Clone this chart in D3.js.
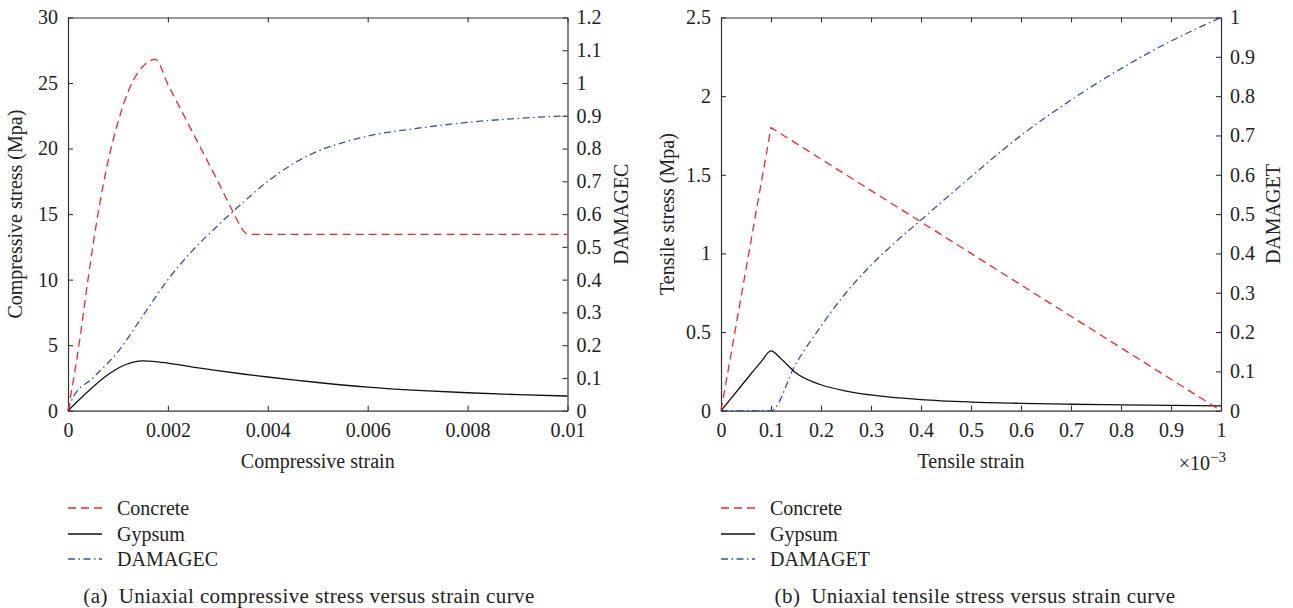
<!DOCTYPE html>
<html>
<head>
<meta charset="utf-8">
<script src="https://cdn.jsdelivr.net/npm/d3@7"></script>
<style>
  body { margin: 0; background: #fff; }
  text { font-family: "Liberation Serif", "DejaVu Serif", serif; fill: #222; }
</style>
</head>
<body>
<div id="chart"></div>
<script>
// ---- data (a) compressive ----
var compConcreteStrain = [0, 0.0002, 0.0004, 0.0006, 0.0008, 0.001, 0.0012, 0.0014, 0.0016, 0.00175, 0.002, 0.0025, 0.003, 0.0033, 0.0035, 0.0036, 0.01];
var compConcreteStress = [0, 4.5, 10, 15, 19, 22, 24.3, 25.8, 26.6, 26.8, 24.9, 21.2, 17.5, 15.2, 13.8, 13.45, 13.45];
var compGypsumStrain = [0, 0.0015, 0.0017, 0.002, 0.0025, 0.003, 0.0035, 0.004, 0.0045, 0.005, 0.006, 0.007, 0.008, 0.009, 0.01];
var compGypsumStress = [0, 3.8, 3.77, 3.63, 3.33, 3.05, 2.8, 2.57, 2.35, 2.15, 1.8, 1.55, 1.37, 1.23, 1.12];
var compDamageStrain = [0, 0.0001, 0.0005, 0.001, 0.0015, 0.002, 0.0025, 0.003, 0.0035, 0.004, 0.0045, 0.005, 0.0055, 0.006, 0.007, 0.008, 0.009, 0.01];
var compDamage = [0, 0.04, 0.10, 0.18, 0.29, 0.40, 0.49, 0.565, 0.635, 0.70, 0.753, 0.792, 0.818, 0.838, 0.862, 0.88, 0.892, 0.90];

var compXTicks = [0, 0.002, 0.004, 0.006, 0.008, 0.01];
var compXLabels = ["0", "0.002", "0.004", "0.006", "0.008", "0.01"];
var compYTicks = [0, 5, 10, 15, 20, 25, 30];
var compYLabels = ["0", "5", "10", "15", "20", "25", "30"];
var compY2Ticks = [0, 0.1, 0.2, 0.3, 0.4, 0.5, 0.6, 0.7, 0.8, 0.9, 1, 1.1, 1.2];
var compY2Labels = ["0", "0.1", "0.2", "0.3", "0.4", "0.5", "0.6", "0.7", "0.8", "0.9", "1", "1.1", "1.2"];

// ---- data (b) tensile (strain in 1e-3) ----
var tensConcreteStrain = [0, 0.1, 1];
var tensConcreteStress = [0, 1.8, 0];
var tensGypsumStrain = [0, 0.05, 0.08, 0.1, 0.12, 0.15, 0.2, 0.25, 0.3, 0.4, 0.5, 0.6, 0.7, 0.8, 0.9, 1.0];
var tensGypsumStress = [0, 0.195, 0.31, 0.38, 0.33, 0.24, 0.165, 0.125, 0.10, 0.07, 0.055, 0.047, 0.041, 0.037, 0.034, 0.031];
var tensDamageStrain = [0, 0.1, 0.15, 0.2, 0.25, 0.3, 0.35, 0.4, 0.5, 0.6, 0.7, 0.8, 0.9, 1.0];
var tensDamage = [0, 0, 0.12, 0.215, 0.30, 0.37, 0.43, 0.485, 0.595, 0.70, 0.79, 0.87, 0.94, 1.0];

var tensXTicks = [0, 0.1, 0.2, 0.3, 0.4, 0.5, 0.6, 0.7, 0.8, 0.9, 1];
var tensXLabels = ["0", "0.1", "0.2", "0.3", "0.4", "0.5", "0.6", "0.7", "0.8", "0.9", "1"];
var tensYTicks = [0, 0.5, 1, 1.5, 2, 2.5];
var tensYLabels = ["0", "0.5", "1", "1.5", "2", "2.5"];
var tensY2Ticks = [0, 0.1, 0.2, 0.3, 0.4, 0.5, 0.6, 0.7, 0.8, 0.9, 1];
var tensY2Labels = ["0", "0.1", "0.2", "0.3", "0.4", "0.5", "0.6", "0.7", "0.8", "0.9", "1"];

var legendNames = ["Concrete", "Gypsum"];

var RED = "#f2262b", BLACK = "#111", BLUE = "#3550b0";

var svg = d3.select("#chart").append("svg")
  .attr("width", 1293)
  .attr("height", 608);

function zip(xs, ys) {
  return xs.map(function (x, i) { return [x, ys[i]]; });
}

function drawPanel(p) {
  var x = d3.scaleLinear().domain(p.xDomain).range([p.left, p.right]);
  var y = d3.scaleLinear().domain(p.yDomain).range([p.bottom, p.top]);
  var y2 = d3.scaleLinear().domain(p.y2Domain).range([p.bottom, p.top]);

  var g = svg.append("g");

  // axes (ticks pointing inward)
  var bottom = g.append("g").attr("transform", "translate(0," + p.bottom + ")")
    .call(d3.axisBottom(x).tickValues(p.xTicks).tickSizeInner(-5).tickSizeOuter(0).tickPadding(12)
      .tickFormat(function (d, i) { return p.xLabels[i]; }));
  var top = g.append("g").attr("transform", "translate(0," + p.top + ")")
    .call(d3.axisTop(x).tickValues(p.xTicks).tickSizeInner(-5).tickSizeOuter(0).tickFormat(""));
  var left = g.append("g").attr("transform", "translate(" + p.left + ",0)")
    .call(d3.axisLeft(y).tickValues(p.yTicks).tickSizeInner(-5).tickSizeOuter(0).tickPadding(10)
      .tickFormat(function (d, i) { return p.yLabels[i]; }));
  var right = g.append("g").attr("transform", "translate(" + p.right + ",0)")
    .call(d3.axisRight(y2).tickValues(p.y2Ticks).tickSizeInner(-5).tickSizeOuter(0).tickPadding(9)
      .tickFormat(function (d, i) { return p.y2Labels[i]; }));

  [bottom, top, left, right].forEach(function (a) {
    a.select(".domain").attr("stroke", "#333").attr("stroke-width", 1.2);
    a.selectAll(".tick line").attr("stroke", "#333").attr("stroke-width", 1.1);
    a.selectAll("text").style("font-size", "20px").attr("fill", "#222");
  });
  bottom.selectAll("text").attr("dy", "0.72em");

  // lines
  var line = d3.line()
    .x(function (d) { return x(d[0]); })
    .y(function (d) { return y(d[1]); })
    .curve(p.concreteCurve);
  var line2 = d3.line()
    .x(function (d) { return x(d[0]); })
    .y(function (d) { return y2(d[1]); })
    .curve(d3.curveMonotoneX);
  var lineG = d3.line()
    .x(function (d) { return x(d[0]); })
    .y(function (d) { return y(d[1]); })
    .curve(d3.curveMonotoneX);

  g.append("path").datum(zip(p.dmgX, p.dmgY))
    .attr("d", line2).attr("fill", "none").attr("stroke", BLUE)
    .attr("stroke-width", 1.3).attr("stroke-dasharray", "7,3.5,1.5,3.5");
  g.append("path").datum(zip(p.gypX, p.gypY))
    .attr("d", lineG).attr("fill", "none").attr("stroke", BLACK).attr("stroke-width", 1.3);
  g.append("path").datum(zip(p.conX, p.conY))
    .attr("d", line).attr("fill", "none").attr("stroke", RED)
    .attr("stroke-width", 1.3).attr("stroke-dasharray", "8,5");

  // axis titles
  var midX = (p.left + p.right) / 2, midY = (p.top + p.bottom) / 2;
  g.append("text").attr("x", midX).attr("y", 468).attr("text-anchor", "middle")
    .style("font-size", "20px").text(p.xTitle);
  g.append("text").attr("transform", "translate(" + p.yTitleX + "," + midY + ") rotate(-90)")
    .attr("text-anchor", "middle").style("font-size", "20px").text(p.yTitle);
  g.append("text").attr("transform", "translate(" + p.y2TitleX + "," + midY + ") rotate(-90)")
    .attr("text-anchor", "middle").style("font-size", "20px").text(p.y2Title);

  // legend
  var names = legendNames.concat([p.y2Title]);
  var styles = [
    { c: RED, dash: "8,5" },
    { c: BLACK, dash: null },
    { c: BLUE, dash: "7,3.5,1.5,3.5" }
  ];
  var rowsY = [508, 534, 559];
  names.forEach(function (n, i) {
    g.append("line").attr("x1", p.left).attr("x2", p.left + 34)
      .attr("y1", rowsY[i]).attr("y2", rowsY[i])
      .attr("stroke", styles[i].c).attr("stroke-width", 1.3)
      .attr("stroke-dasharray", styles[i].dash);
    g.append("text").attr("x", p.left + 49).attr("y", rowsY[i]).attr("dy", "0.35em")
      .style("font-size", "20px").text(n);
  });

  // caption
  g.append("text").attr("x", p.captionX).attr("y", 596).attr("dy", "0.35em")
    .attr("text-anchor", "middle").style("font-size", "21px").style("letter-spacing", "0.4px")
    .text(p.caption);

  return g;
}

drawPanel({
  left: 68, right: 567.5, top: 17.5, bottom: 410.7,
  xDomain: [0, 0.01], yDomain: [0, 30], y2Domain: [0, 1.2],
  xTicks: compXTicks, xLabels: compXLabels,
  yTicks: compYTicks, yLabels: compYLabels,
  y2Ticks: compY2Ticks, y2Labels: compY2Labels,
  conX: compConcreteStrain, conY: compConcreteStress,
  gypX: compGypsumStrain, gypY: compGypsumStress,
  dmgX: compDamageStrain, dmgY: compDamage,
  concreteCurve: d3.curveMonotoneX,
  xTitle: "Compressive strain", yTitle: "Compressive stress (Mpa)", y2Title: "DAMAGEC",
  yTitleX: 22, y2TitleX: 628,
  caption: "(a)\u2002Uniaxial compressive stress versus strain curve", captionX: 309
});

var gb = drawPanel({
  left: 721, right: 1221, top: 17.5, bottom: 410.7,
  xDomain: [0, 1], yDomain: [0, 2.5], y2Domain: [0, 1],
  xTicks: tensXTicks, xLabels: tensXLabels,
  yTicks: tensYTicks, yLabels: tensYLabels,
  y2Ticks: tensY2Ticks, y2Labels: tensY2Labels,
  conX: tensConcreteStrain, conY: tensConcreteStress,
  gypX: tensGypsumStrain, gypY: tensGypsumStress,
  dmgX: tensDamageStrain, dmgY: tensDamage,
  concreteCurve: d3.curveLinear,
  xTitle: "Tensile strain", yTitle: "Tensile stress (Mpa)", y2Title: "DAMAGET",
  yTitleX: 674, y2TitleX: 1280,
  caption: "(b)\u2002Uniaxial tensile stress versus strain curve", captionX: 975
});

// exponent label for tensile strain axis
var ex = gb.append("text").attr("x", 1226).attr("y", 470).attr("text-anchor", "end")
  .style("font-size", "20px");
ex.append("tspan").text("\u00d710");
ex.append("tspan").attr("dy", -8).style("font-size", "15px").text("\u22123");
</script>
</body>
</html>
